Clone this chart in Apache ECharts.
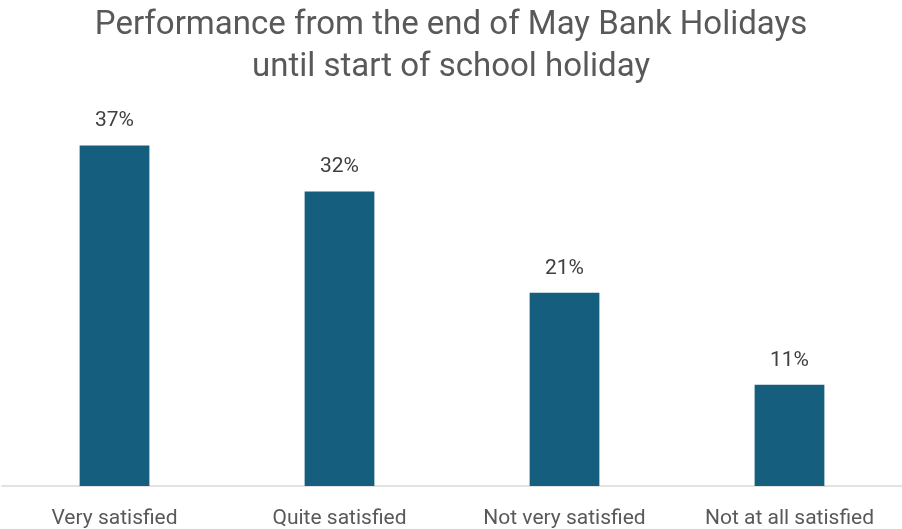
<!DOCTYPE html>
<html><head><meta charset="utf-8">
<script src="https://cdn.jsdelivr.net/npm/echarts@6/dist/echarts.min.js"></script>
<style>html,body{margin:0;padding:0;background:#fff}#c{width:902px;height:529px}</style>
</head><body><div id="c"></div>
<script>
const categories = ["Very satisfied", "Quite satisfied", "Not very satisfied", "Not at all satisfied"];
const values = [37, 32, 21, 11];
const titleText = "Performance from the end of May Bank Holidays\nuntil start of school holiday";

const chart = echarts.init(document.getElementById('c'), null, {renderer: 'canvas'});
chart.setOption({
  animation: false,
  title: {
    text: titleText, left: 'center', top: 0,
    textStyle: {fontFamily: 'Roboto', fontWeight: 'normal', fontSize: 33, color: '#595959', lineHeight: 42}
  },
  grid: {left: 2, right: 0, top: 118, bottom: 41, containLabel: false},
  xAxis: {
    type: 'category', data: categories,
    axisLine: {lineStyle: {color: '#d9d9d9', width: 1.5}},
    axisTick: {show: false},
    axisLabel: {fontFamily: 'Roboto', fontSize: 21, color: '#595959', margin: 22, interval: 0}
  },
  yAxis: {type: 'value', min: 0, max: 40, show: false, splitLine: {show: false}},
  series: [{
    type: 'bar', data: values, barWidth: '31%',
    itemStyle: {color: '#155E7E'},
    label: {show: true, position: 'top', distance: 14, formatter: '{c}%', fontFamily: 'Roboto', fontSize: 21, color: '#404040'}
  }]
});
</script></body></html>
